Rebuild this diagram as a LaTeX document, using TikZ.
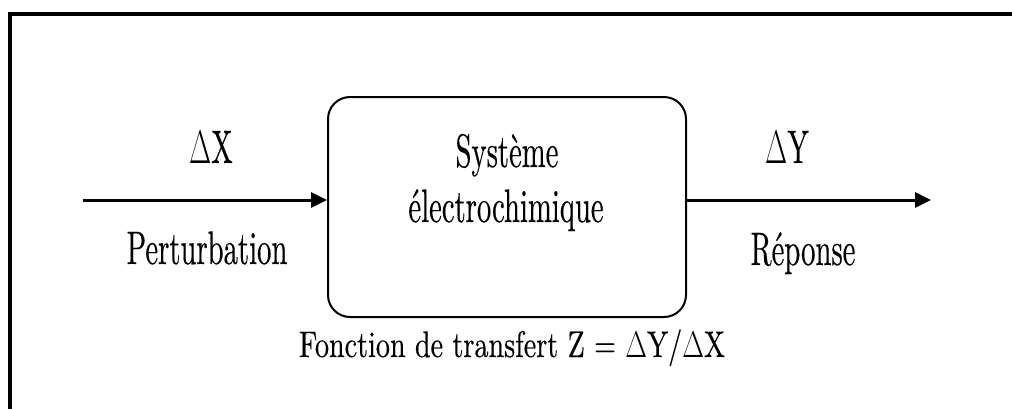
\RequirePackage{fix-cm}
\documentclass[tikz,border=0pt]{standalone}
\usepackage{fontspec}
\setmainfont{lmroman10-regular.otf}[FakeBold=0.4]
\usetikzlibrary{arrows.meta}
\newcommand{\sqz}[2][0.61]{\scalebox{#1}[1]{#2}}
\tikzset{
  lbl/.style={inner sep=0pt, anchor=base, font=\fontsize{47}{50}\selectfont},
  small/.style={inner sep=0pt, anchor=base, font=\fontsize{37}{40}\selectfont},
  sysbox/.style={draw, line width=2pt, rounded corners=22pt, minimum width=358pt, minimum height=220pt, inner sep=0pt},
  flow/.style={line width=3pt, -{Triangle[length=16pt,width=15pt]}},
  frame/.style={line width=4pt}
}
\begin{document}
\begin{tikzpicture}[x=1pt,y=-1pt]
\useasboundingbox (0,0) rectangle (1012,408);
\draw[frame] (9.5,410) -- (9.5,13.5) -- (1014,13.5);
\node[sysbox] (sys) at (507,207) {};
\coordinate (in) at (83,200);
\coordinate (out) at (931,200);
\draw[flow] (in) -- (in -| sys.west);
\draw[flow] (out -| sys.east) -- (out);
\node[lbl] (dx) at (211,163) {\sqz{$\Delta$X}};
\node[lbl] (pert) at (207,264) {\sqz{Perturbation}};
\node[lbl] (dy) at (787,163) {\sqz{$\Delta$Y}};
\node[lbl] (rep) at (803,265) {\sqz{Réponse}};
\node[lbl] (s1) at (507,167) {\sqz{Système}};
\node[lbl] (s2) at (506,222) {\sqz{électrochimique}};
\node[small] (tf) at (512,357) {\sqz[0.76]{Fonction de transfert Z = $\Delta$Y/$\Delta$X}};
\end{tikzpicture}
\end{document}
